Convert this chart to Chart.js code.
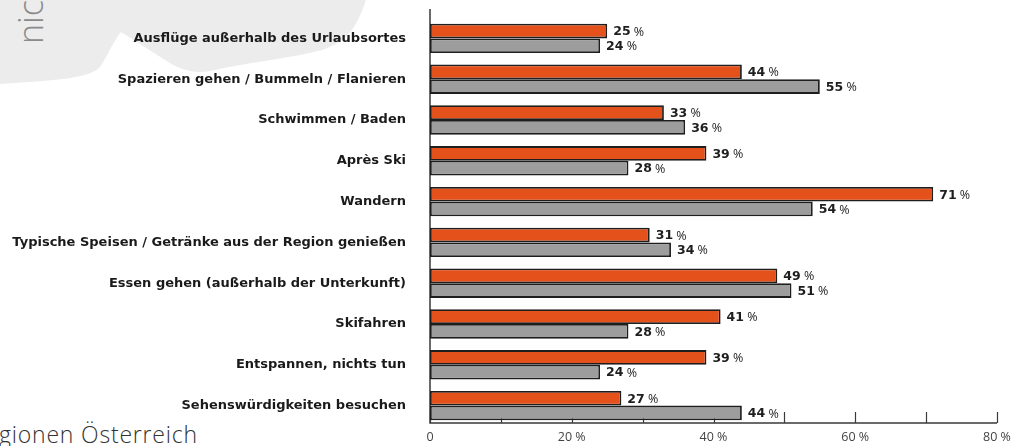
<!DOCTYPE html>
<html lang="de">
<head>
<meta charset="utf-8">
<title>Aktivitäten im Urlaub</title>
<script src="https://cdn.jsdelivr.net/npm/chart.js@4"></script>
<style>
  html, body { margin: 0; padding: 0; background: #fff; }
  #wrap { position: relative; width: 1030px; height: 446px; overflow: hidden; }
  #blob { position: absolute; left: 0; top: 0; z-index: 0; }
  #chartBox { position: absolute; left: 0; top: 0; width: 1030px; height: 446px; z-index: 2; }
  .side-word {
    position: absolute; z-index: 1;
    font-family: "Open Sans", sans-serif; font-weight: 300;
    white-space: nowrap;
  }
  #nic { left: 13px; top: 44px; font-size: 34px; line-height: 34px; color: #8a8a8a;
         transform-origin: 0 0; transform: rotate(-90deg); }
  #region { left: -1px; top: 423px; font-size: 23px; line-height: 23px; color: #333; letter-spacing: 0.8px; }
</style>
</head>
<body>
<div id="wrap">
  <svg id="blob" width="400" height="100" viewBox="0 0 400 100">
    <path d="M0,0 H366 C356,30 346,42 322,50 C292,58 250,62 210,71 C195,74 180,70 165,60 L121,32 C114,40 108,55 100,67 C90,78 60,80 0,84 Z" fill="#ececec"/>
  </svg>
  <div class="side-word" id="nic">nic</div>
  <div class="side-word" id="region">gionen Österreich</div>
  <div id="chartBox"><canvas id="chart"></canvas></div>
</div>

<script>
/* ---------------------------------------------------------------
   DATA
   --------------------------------------------------------------- */
const categories = [
  "Ausflüge außerhalb des Urlaubsortes",
  "Spazieren gehen / Bummeln / Flanieren",
  "Schwimmen / Baden",
  "Après Ski",
  "Wandern",
  "Typische Speisen / Getränke aus der Region genießen",
  "Essen gehen (außerhalb der Unterkunft)",
  "Skifahren",
  "Entspannen, nichts tun",
  "Sehenswürdigkeiten besuchen"
];
const seriesOrange = [25, 44, 33, 39, 71, 31, 49, 41, 39, 27];
const seriesGrey   = [24, 55, 36, 28, 54, 34, 51, 28, 24, 44];
const xTicks = [0, 10, 20, 30, 40, 50, 60, 70, 80];
const xLabelled = [0, 20, 40, 60, 80];

const FONT = "'DejaVu Sans', sans-serif";
const LIGHT = "'Open Sans', sans-serif";

/* ---------------------------------------------------------------
   Axis lines + upward tick marks (drawn under the bars)
   --------------------------------------------------------------- */
const axisPlugin = {
  id: "axisLines",
  beforeDatasetsDraw(chart) {
    const { ctx, chartArea, scales } = chart;
    const yAxis = chartArea.bottom - 3;
    ctx.save();
    ctx.strokeStyle = "#3a3a3a";
    ctx.lineWidth = 1.5;
    ctx.beginPath();
    ctx.moveTo(chartArea.left, chartArea.top - 9);
    ctx.lineTo(chartArea.left, yAxis);
    ctx.lineTo(scales.x.getPixelForValue(80), yAxis);
    ctx.stroke();
    ctx.lineWidth = 1.2;
    xTicks.forEach(v => {
      const px = Math.round(scales.x.getPixelForValue(v)) + 0.5;
      ctx.beginPath();
      ctx.moveTo(px, yAxis);
      ctx.lineTo(px, yAxis - 11);
      ctx.stroke();
    });
    ctx.restore();
  }
};

/* ---------------------------------------------------------------
   Value labels: bold number + regular "%"
   --------------------------------------------------------------- */
const valuePlugin = {
  id: "valueLabels",
  afterDatasetsDraw(chart) {
    const { ctx } = chart;
    ctx.save();
    ctx.textBaseline = "middle";
    ctx.fillStyle = "#1e1e1e";
    chart.data.datasets.forEach((ds, i) => {
      chart.getDatasetMeta(i).data.forEach((bar, j) => {
        const num = String(ds.data[j]);
        let x = bar.x + 6;
        const y = bar.y + 1;
        ctx.font = "bold 12.5px " + FONT;
        ctx.fillText(num, x, y);
        x += ctx.measureText(num).width;
        ctx.font = "12.5px " + LIGHT;
        ctx.fillText(" %", x, y);
      });
    });
    ctx.restore();
  }
};

new Chart(document.getElementById("chart"), {
  type: "bar",
  data: {
    labels: categories,
    datasets: [
      {
        label: "Orange",
        data: seriesOrange,
        backgroundColor: "#e5511a",
        borderColor: "#1e1e1e",
        borderWidth: 1.8,
        borderSkipped: false,
        categoryPercentage: 0.72,
        barPercentage: 1.0
      },
      {
        label: "Grau",
        data: seriesGrey,
        backgroundColor: "#9d9d9d",
        borderColor: "#1e1e1e",
        borderWidth: 1.8,
        borderSkipped: false,
        categoryPercentage: 0.72,
        barPercentage: 1.0
      }
    ]
  },
  options: {
    indexAxis: "y",
    responsive: true,
    maintainAspectRatio: false,
    animation: false,
    layout: { padding: { top: 18, right: 33, bottom: 0, left: 0 } },
    plugins: {
      legend: { display: false },
      tooltip: { enabled: false }
    },
    scales: {
      x: {
        min: 0,
        max: 80,
        afterBuildTicks(scale) {
          scale.ticks = xTicks.map(v => ({ value: v }));
        },
        afterFit(scale) { scale.height = 20; },
        ticks: {
          autoSkip: false,
          maxRotation: 0,
          padding: 4,
          color: "#444",
          font: { family: LIGHT, size: 12.5, weight: "normal" },
          callback: v => xLabelled.includes(v) ? (v === 0 ? "0" : v + " %") : ""
        },
        grid: { display: false, drawTicks: false },
        border: { display: false }
      },
      y: {
        afterFit(scale) {
          scale.width = 430;
          scale.paddingTop = 0;
          scale.paddingBottom = 0;
        },
        ticks: {
          padding: 24,
          color: "#1a1a1a",
          font: { family: FONT, size: 13, weight: "bold" }
        },
        grid: { display: false, drawTicks: false },
        border: { display: false }
      }
    }
  },
  plugins: [axisPlugin, valuePlugin]
});
</script>
</body>
</html>
